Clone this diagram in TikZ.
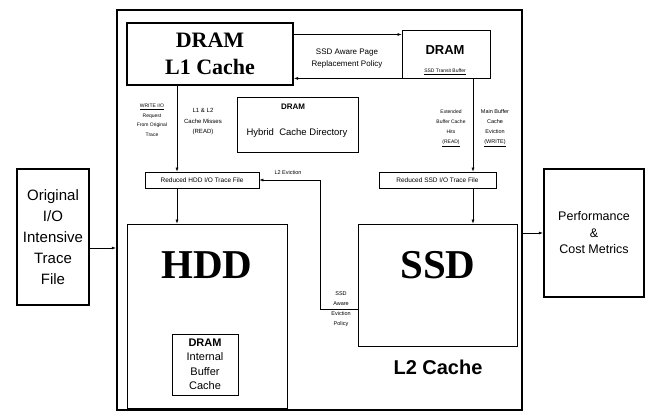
\documentclass[tikz,border=0pt]{standalone}
\usepackage{fontspec}
\setmainfont{Liberation Sans}
\newfontfamily\timesfont{Liberation Serif}
\usetikzlibrary{arrows.meta, calc, positioning}

\begin{document}
\begin{tikzpicture}[x=1pt, y=-1pt,
    every node/.style={font=\fontsize{5.5}{9.5}\selectfont},
    box/.style={draw, line width=0.8pt, inner sep=0pt, align=center},
    bigbox/.style={box, line width=2.4pt},
    note/.style={align=center, inner sep=0pt},
    arr/.style={-{Latex[length=4pt, width=3pt]}, line width=0.6pt},
  ]
  \useasboundingbox (0,0) rectangle (659,412);
  % --- frame of the simulator
  \node[bigbox, minimum width=405, minimum height=400] (outer) at (319.5,210) {};
  % --- DRAM level
  \node[bigbox, line width=2pt, minimum width=166, minimum height=62,
        font=\timesfont\bfseries\fontsize{22}{27}\selectfont] (l1) at (210,54) {DRAM\\L1 Cache};
  \node[box, minimum width=88, minimum height=48] (stb) at (446,54) {};
  \node[note, font=\bfseries\fontsize{13}{15}\selectfont] (stbhead) at (445,50) {DRAM};
  \node[note, font=\fontsize{5}{6}\selectfont] (stbname) at (445,72) {\underline{SSD Transit Buffer}};
  \node[box, minimum width=121, minimum height=55] (hcd) at (297.5,124.5) {};
  \node[note, font=\bfseries\fontsize{8}{9}\selectfont] (hcdhead) at (293,107) {DRAM};
  \node[note, font=\fontsize{9.5}{11}\selectfont] (hcdname) at (297,133) {Hybrid\ \ Cache Directory};
  % --- trace files
  \node[box, minimum width=114, minimum height=16, font=\fontsize{6.5}{7}\selectfont] (rhdd) at (202,180) {Reduced HDD I/O Trace File};
  \node[box, minimum width=117, minimum height=16, font=\fontsize{6.5}{7}\selectfont] (rssd) at (437.5,180) {Reduced SSD I/O Trace File};
  % --- disks
  \node[box, minimum width=160, minimum height=184] (hdd) at (207,316) {};
  \node[note, font=\timesfont\bfseries\fontsize{41}{45}\selectfont] (hddname) at (207,265) {HDD};
  \node[box, minimum width=66, minimum height=61, font=\fontsize{11}{14.5}\selectfont] (ibc) at (205,364.5) {\textbf{DRAM}\\Internal\\Buffer\\Cache};
  \node[box, minimum width=159, minimum height=122] (ssd) at (437.5,285) {};
  \node[note, font=\timesfont\bfseries\fontsize{41}{45}\selectfont] (ssdname) at (438,265) {SSD};
  \node[note, font=\bfseries\fontsize{20}{22}\selectfont] (l2) at (438,367.5) {L2 Cache};
  % --- input and output
  \node[bigbox, minimum width=72, minimum height=136, font=\fontsize{15}{21}\selectfont] (orig) at (53,237) {Original\\I/O\\Intensive\\Trace\\File};
  \node[bigbox, minimum width=100, minimum height=128, font=\fontsize{12.5}{16.5}\selectfont] (perf) at (594,233) {Performance\\\&\\Cost Metrics};
  % --- helper coordinates
  \coordinate (hx) at (177,0);
  \coordinate (sx) at (473,0);
  \coordinate (ev) at (320,309);
  \coordinate (iy) at (0,248);
  \path ($(stb.north west)!0.1!(stb.south west)$) coordinate (tin);
  % --- edges
  \draw[arr] (tin -| l1.east) -- (tin);
  \draw[arr] (stb.south west) -- (stb.south west -| l1.east);
  \draw[arr] (l1.south -| hx) -- (rhdd.north -| hx);
  \draw[arr] (rhdd.south -| hx) -- (hdd.north -| hx);
  \draw[arr] (stb.south -| sx) -- (rssd.north -| sx);
  \draw[arr] (rssd.south -| sx) -- (ssd.north -| sx);
  \draw[arr] (ssd.west |- ev) -- (ev) |- (rhdd.east);
  \draw[arr] (orig.east |- iy) -- (outer.west |- iy);
  \draw[arr] (outer.east |- perf.west) -- (perf.west);
  % --- labels on edges
  \node[note, font=\fontsize{8}{12}\selectfont] (pagepol) at (347,59) {SSD Aware Page\\Replacement Policy};
  \node[note, font=\fontsize{5}{9.5}\selectfont] (wrlbl) at (152,120) {\underline{WRITE I/O}\\Request\\From Original\\Trace};
  \node[note, font=\fontsize{6}{10.5}\selectfont] (misslbl) at (203,122) {L1 \& L2\\Cache Misses\\(READ)};
  \node[note, font=\fontsize{5}{10}\selectfont] (hitlbl) at (451,128) {Extended\\Buffer Cache\\Hits\\\underline{(READ)}};
  \node[note, font=\fontsize{5.5}{10}\selectfont] (evlbl) at (495,128) {Main Buffer\\Cache\\Eviction\\\underline{(WRITE)}};
  \node[note] (l2ev) at (288,173) {L2 Eviction};
  \node[note, font=\fontsize{5.5}{10}\selectfont] (evpol) at (341,309) {SSD\\Aware\\Eviction\\Policy};
\end{tikzpicture}
\end{document}
